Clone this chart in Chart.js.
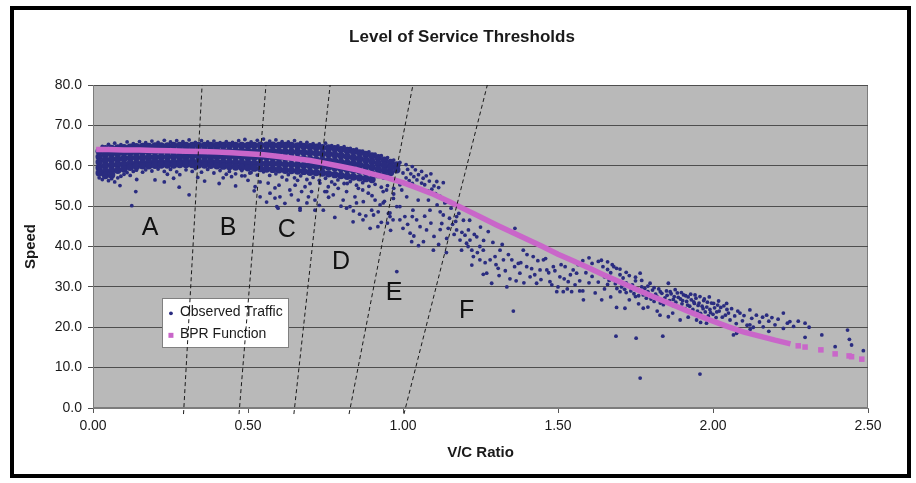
<!DOCTYPE html>
<html><head><meta charset="utf-8">
<script src="https://cdn.jsdelivr.net/npm/chart.js@4.4.1/dist/chart.umd.min.js"></script>
<style>
html,body{margin:0;padding:0;background:#fff;}
#wrap{position:relative;width:916px;height:483px;overflow:hidden;}
#frame{position:absolute;left:10px;top:6px;width:893px;height:464px;border:4px solid #000;pointer-events:none;}
canvas{position:absolute;left:0;top:0;}
</style></head><body>
<div id="wrap"><canvas id="c" width="916" height="483"></canvas><div id="frame"></div></div>
<script>
// ---------- DATA ----------
const chartTitle = 'Level of Service Thresholds';
const xTitle = 'V/C Ratio';
const yTitle = 'Speed';
const xTicks = [0, 0.5, 1.0, 1.5, 2.0, 2.5];
const yTicks = [0, 10, 20, 30, 40, 50, 60, 70, 80];

// BPR function
const bprCurveX = [0.01,0.05,0.10,0.15,0.20,0.25,0.30,0.35,0.40,0.45,0.50,0.55,0.60,0.65,0.70,0.75,0.80,0.85,0.90,0.95,1.00,1.05,1.10,1.15,1.20,1.25,1.30,1.35,1.40,1.45,1.50,1.55,1.60,1.65,1.70,1.75,1.80,1.85,1.90,1.95,2.00,2.05,2.10,2.15,2.20,2.25];
const bprCurveY = [64.0,64.0,63.9,63.9,63.8,63.7,63.6,63.5,63.4,63.2,63.0,62.7,62.3,61.8,61.3,60.6,59.8,59.0,58.0,57.0,55.8,54.4,52.9,51.1,49.2,47.3,45.4,43.6,41.8,40.0,38.1,36.4,34.7,32.9,31.2,29.5,27.8,26.2,24.6,23.0,21.5,20.1,18.8,17.8,16.8,15.9];
const bprTailX = [2.275,2.297,2.348,2.394,2.439,2.447,2.48];
const bprTailY = [15.4,15.1,14.4,13.4,12.9,12.7,12.1];

// Observed traffic: dense free-flow core, columns of [v/c, [speeds]]
const obsCoreColumns = [
 [0.02,[63.6,62.2,60.9,59.5,58.2]],[0.04,[64.2,62.8,61.4,60.0,58.6,57.6]],[0.06,[64.3,63.0,61.6,60.2,58.8,57.7]],
 [0.08,[64.4,63.1,61.7,60.3,58.9]],[0.10,[64.5,63.2,61.8,60.4,59.2]],[0.12,[64.6,63.3,61.9,60.6,59.6]],
 [0.14,[64.7,63.3,62.0,60.6,59.8]],[0.16,[64.8,63.4,62.0,60.7,60.0]],[0.18,[64.8,63.5,62.1,60.8,60.0]],
 [0.20,[64.9,63.5,62.1,60.8,60.1]],[0.22,[64.9,63.6,62.2,60.9,60.2]],[0.24,[64.9,63.6,62.2,60.9,60.2]],
 [0.26,[65.0,63.6,62.3,60.9,60.2]],[0.28,[65.0,63.7,62.3,61.0,60.3]],[0.30,[65.0,63.7,62.3,61.0,60.3]],
 [0.32,[65.0,63.7,62.4,61.0,60.3]],[0.34,[65.0,63.7,62.4,61.0,60.2]],[0.36,[65.0,63.7,62.3,61.0,60.2]],
 [0.38,[65.0,63.7,62.3,61.0,60.1]],[0.40,[65.0,63.7,62.3,60.9,60.0]],[0.42,[65.0,63.6,62.3,60.9,59.9]],
 [0.44,[65.0,63.6,62.2,60.8,59.8]],[0.46,[65.0,63.6,62.2,60.8,59.7]],[0.48,[65.0,63.6,62.2,60.7,59.6]],
 [0.50,[65.0,63.6,62.1,60.7,59.5]],[0.52,[65.0,63.5,62.1,60.6,59.4]],[0.54,[65.1,63.6,62.1,60.6,59.3]],
 [0.56,[65.1,63.6,62.1,60.6,59.2]],[0.58,[65.1,63.6,62.0,60.5,59.1]],[0.60,[65.0,63.5,62.0,60.5,59.0]],
 [0.62,[65.0,63.5,62.0,60.4,58.9]],[0.64,[65.0,63.4,61.9,60.3,58.8]],[0.66,[64.9,63.4,61.8,60.2,58.7]],
 [0.68,[64.8,63.3,61.7,60.1,58.6]],[0.70,[64.7,63.2,61.6,60.0,58.4]],[0.72,[64.6,63.1,61.5,59.9,58.3]],
 [0.74,[64.5,63.0,61.4,59.8,58.2]],[0.76,[64.4,62.9,61.3,59.7,58.0]],[0.78,[64.2,62.7,61.1,59.5,57.8]],
 [0.80,[64.0,62.5,60.9,59.3,57.6]],[0.82,[63.8,62.3,60.7,59.1,57.4]],[0.84,[63.5,62.0,60.5,58.9,57.2]],
 [0.86,[63.2,61.7,60.2,58.7,57.0]],[0.88,[62.8,61.4,59.9,58.4,56.8]],[0.90,[62.4,61.0,59.6,58.1,56.6]],
 [0.92,[62.0,60.6,59.2,57.8]],[0.94,[61.4,60.1,58.8,57.4]],[0.96,[60.8,59.6,58.3]],[0.98,[60.2,59.0]]
];
// upper edge of the free-flow cloud
const obsUpperEdge = [[0.03,64.8],[0.05,65.3],[0.07,65.6],[0.09,65.2],[0.11,65.9],[0.13,65.5],[0.15,66.0],[0.17,65.7],[0.19,66.1],[0.21,65.8],[0.23,66.3],[0.25,65.9],[0.27,66.2],[0.29,66.0],[0.31,66.4],[0.33,65.8],[0.35,66.2],[0.37,65.9],[0.39,66.1],[0.41,65.7],[0.43,66.0],[0.45,65.8],[0.47,66.2],[0.49,66.5],[0.51,65.9],[0.53,66.3],[0.55,66.6],[0.57,66.1],[0.59,66.4],[0.61,66.0],[0.63,65.9],[0.65,66.2],[0.67,65.7],[0.69,65.8],[0.71,65.5],[0.73,65.4],[0.75,65.6],[0.77,65.0],[0.79,64.9],[0.81,64.7],[0.83,64.3],[0.85,64.1],[0.87,63.6],[0.89,63.4],[0.91,62.9],[0.93,62.5],[0.95,62.0],[0.97,61.4],[0.99,60.8],[1.01,60.3],[1.03,59.8]];
// lower edge of the free-flow cloud
const obsLowerEdge = [[0.02,57.0],[0.03,56.6],[0.05,56.3],[0.06,56.8],[0.07,56.0],[0.08,57.0],[0.09,57.4],[0.10,57.9],[0.11,58.3],[0.12,57.6],[0.13,58.6],[0.14,58.9],[0.16,58.4],[0.17,59.0],[0.19,58.7],[0.21,59.2],[0.23,58.6],[0.24,57.9],[0.25,59.1],[0.27,58.5],[0.28,57.8],[0.30,59.0],[0.32,58.6],[0.33,59.3],[0.35,58.4],[0.37,59.1],[0.39,58.2],[0.41,58.8],[0.43,57.9],[0.44,58.6],[0.46,58.0],[0.48,58.8],[0.49,57.5],[0.51,58.3],[0.53,57.7],[0.55,58.5],[0.57,57.6],[0.59,58.0],[0.61,57.2],[0.63,57.8],[0.65,57.0],[0.67,57.5],[0.69,56.6],[0.71,57.1],[0.73,56.4],[0.75,56.9],[0.77,56.0],[0.79,56.5],[0.81,55.6],[0.83,56.1],[0.85,55.2],[0.87,55.8],[0.89,54.9],[0.91,55.4],[0.93,54.7],[0.95,55.1],[0.97,54.4],[0.99,55.3]];
// scattered slow observations in free flow / stable flow
const obsScatterLow = [[0.087,55.1],[0.141,56.6],[0.138,53.6],[0.125,50.1],[0.278,54.7],[0.31,52.8],[0.338,57.1],[0.407,55.6],[0.447,57.3],[0.48,57.5],[0.20,56.5],[0.26,56.9],[0.23,56.0],
 [0.506,58.2],[0.539,56.0],[0.565,55.7],[0.571,53.2],[0.587,54.5],[0.603,52.3],[0.597,49.5],[0.625,56.5],[0.635,54.0],[0.652,55.2],[0.662,51.5],[0.673,53.6],[0.684,54.8],[0.695,52.3],[0.705,53.6],[0.716,51.5],[0.732,55.7],[0.748,53.6],[0.759,54.8],[0.775,52.8],[0.791,54.4],[0.807,51.5],[0.818,53.6],[0.829,49.9],[0.845,52.3],[0.856,54.4],[0.872,51.1],[0.888,53.2],[0.899,49.0],[0.91,51.5],[0.926,50.3],[0.936,53.6],[0.953,48.2],[0.969,51.9],[0.98,49.9],
 [0.668,49.5],[0.587,52.0],[0.539,52.3],[0.523,54.8],[0.619,50.7],[0.743,49.0],[0.716,49.0],[0.593,49.9],[0.668,49.0],[0.754,53.6],[0.818,49.5],[0.839,46.1],[0.871,46.6],[0.894,44.5],[0.919,44.9],[0.958,47.4],[0.99,46.6],[1.03,47.4],[0.78,47.2],[0.86,48.0],[0.93,46.0],[0.96,44.0],[0.905,47.8],[0.98,33.8],
 [0.56,51.0],[0.6,55.2],[0.64,52.8],[0.66,56.4],[0.69,50.8],[0.7,55.6],[0.73,50.2],[0.76,52.2],[0.78,55.4],[0.8,50.0],[0.82,55.6],[0.84,48.8],[0.85,50.8],[0.87,54.0],[0.88,47.6],[0.9,52.6],[0.92,48.6],[0.94,51.2],[0.95,45.8],[0.97,53.0],
 [0.36,56.2],[0.42,57.0],[0.5,56.4],[0.52,53.8],[0.46,55.0]];
// transition zone around capacity
const obsTransition = [[0.947,54.0],[0.936,50.8],[0.958,48.3],[0.968,46.6],[0.99,49.9],[1.006,47.4],[1.023,43.3],[1.032,49.0],[1.044,46.6],[1.055,44.9],[1.066,41.2],[1.028,41.2],[1.098,39.1],[1.076,44.1],[1.049,51.5],[1.012,52.3],[0.996,54.0],[1.039,54.8],[1.06,55.7],[1.109,56.1],[1.093,54.2],[1.082,51.5],[1.087,49.0],
 [1.0,58.2],[1.01,57.0],[1.015,59.1],[1.02,56.3],[1.025,58.0],[1.03,55.6],[1.035,57.3],[1.04,59.0],[1.045,56.5],[1.05,57.8],[1.055,54.2],[1.06,58.6],[1.065,56.9],[1.07,55.3],[1.075,57.5],[1.08,53.8],[1.085,56.2],[1.09,58.0],[1.1,55.0],[1.105,53.1],[1.115,54.6],[1.12,52.4],[1.13,55.8],[1.14,51.0],
 [1.0,44.5],[1.015,45.5],[1.035,42.6],[1.05,40.2],[1.07,47.5],[1.09,45.8],[1.1,42.5],[1.115,40.5],[1.12,44.2],[1.14,38.5],
 [1.13,47.8],[1.125,45.7],[1.146,44.5],[1.141,42.0],[1.173,44.1],[1.184,41.6],[1.211,44.1],[1.216,41.6],[1.222,39.1],[1.227,37.5],[1.248,40.0],[1.259,39.1],[1.275,43.7],[1.281,36.7],[1.222,35.4],[1.259,33.1],[1.286,30.9],[1.313,39.1],[1.324,36.7],[1.335,30.0],[1.361,44.5],[1.372,35.8],[1.388,39.1],[1.399,35.0],[1.42,37.5],[1.431,30.9],[1.453,36.7],[1.464,34.2],[1.485,35.0],[1.506,32.5],[1.517,28.8],[1.533,31.3],[1.549,34.2],[1.356,24.0],
 [1.173,47.4],[1.189,39.1],[1.205,40.8],[1.238,42.4],[1.248,36.7],[1.27,33.4],[1.297,37.5],[1.307,34.6],[1.351,36.7],[1.377,33.4],[1.41,32.5],[1.442,34.2],[1.474,31.3],[1.496,28.8],[1.523,35.0],[1.544,28.8],[1.56,33.4],
 [1.11,50.3],[1.12,48.6],[1.135,50.8],[1.15,47.0],[1.155,49.5],[1.16,45.5],[1.165,43.0],[1.17,46.2],[1.18,48.2],[1.19,43.5],[1.195,46.5],[1.2,42.8],[1.21,40.0],[1.215,46.5],[1.23,43.0],[1.24,38.5],[1.25,44.8],[1.26,41.5],[1.265,36.0],[1.29,41.0],[1.3,35.5],[1.31,32.8],[1.32,40.5],[1.33,34.0],[1.34,38.0],[1.345,32.0],[1.36,35.0],[1.365,31.5],[1.38,36.0],[1.39,31.0],[1.4,38.0],[1.415,34.5],[1.425,33.0],[1.435,36.5],[1.445,31.8],[1.46,37.0],[1.47,33.5],[1.48,30.5],[1.49,34.0],[1.5,30.0],[1.51,35.5],[1.52,32.0],[1.53,29.5],[1.54,33.0],[1.555,30.5],[1.565,35.5],[1.57,31.5],[1.58,29.0],[1.59,33.5]];
// congested flow
const obsCongested = [[1.58,36.5],[1.6,37.2],[1.61,35.8],[1.62,34.0],[1.63,36.3],[1.64,33.2],[1.645,35.0],[1.65,32.5],[1.66,34.3],[1.665,31.6],[1.67,33.5],[1.675,35.5],[1.68,32.0],[1.685,30.8],[1.689,34.6],[1.69,31.5],[1.7,33.0],[1.705,30.0],[1.71,32.2],[1.715,29.4],[1.72,31.0],[1.73,32.8],[1.735,29.0],[1.74,30.5],[1.745,28.3],[1.75,31.5],[1.755,29.5],[1.76,27.8],[1.765,33.4],[1.77,30.0],[1.775,28.0],[1.78,29.6],[1.785,27.2],[1.79,28.8],[1.797,30.9],[1.8,27.0],[1.805,29.2],[1.81,26.4],[1.815,28.2],[1.82,27.5],[1.825,29.5],[1.83,26.0],[1.835,28.4],[1.84,25.6],[1.845,27.3],[1.85,29.0],[1.856,30.9],[1.86,26.6],[1.865,28.3],[1.87,25.4],[1.875,27.6],[1.88,26.2],[1.885,28.5],[1.89,25.0],[1.895,27.0],[1.9,25.8],[1.905,28.0],[1.91,24.6],[1.915,26.4],[1.92,27.5],[1.925,25.2],[1.93,26.8],[1.935,24.4],[1.94,25.9],[1.945,27.2],[1.95,24.0],[1.955,26.0],[1.96,23.4],[1.965,25.2],[1.97,26.6],[1.975,23.8],[1.98,25.0],[1.985,22.8],[1.99,24.4],[1.995,26.0],[2.0,23.2],[2.005,24.8],[2.01,22.4],[2.015,25.5],
 [1.852,27.9],[1.862,28.8],[1.872,26.9],[1.878,29.3],[1.888,27.4],[1.898,28.6],[1.902,26.6],[1.912,27.8],[1.918,25.5],[1.928,28.2],[1.938,26.3],[1.942,28.0],[1.952,25.4],[1.958,27.6],[1.968,24.6],[1.972,27.0],[1.982,26.2],[1.988,27.5],[1.992,23.6],[2.002,25.9],[2.012,23.8],[2.018,26.5],[2.025,24.9],[2.04,23.0],[2.045,24.4],[1.83,28.8],[1.81,29.8],[1.79,30.2],[1.77,31.6],[1.75,32.4],[1.72,33.6],[1.7,34.4],[1.68,35.0],[1.66,36.2],[1.64,36.6],
 [1.61,32.6],[1.63,31.2],[1.66,30.6],[1.69,29.6],[1.72,28.6],[1.75,27.6],
 [1.582,26.8],[1.641,26.8],[1.689,24.9],[1.716,24.7],[1.775,24.7],[1.829,23.0],[1.856,22.6],[1.894,21.8],[1.947,21.8],[1.979,21.0],[1.57,29.0],[1.6,31.0],[1.62,28.5],[1.65,29.5],[1.67,27.5],[1.7,28.8],[1.73,26.8],[1.76,25.8],[1.79,25.0],[1.82,24.0],[1.87,23.5],[1.92,22.5],[1.96,21.2],
 [1.687,17.8],[1.752,17.3],[1.838,17.8],[1.765,7.4],[1.958,8.4]];
// heavily congested tail
const obsTail = [[2.02,24.0],[2.03,22.5],[2.035,25.3],[2.044,25.9],[2.05,23.5],[2.055,21.8],[2.06,24.6],[2.07,22.8],[2.075,20.9],[2.08,24.0],[2.087,23.5],[2.095,21.6],[2.1,22.9],[2.11,20.5],[2.119,24.3],[2.125,22.2],[2.13,20.0],[2.14,23.0],[2.15,21.3],[2.16,22.5],[2.162,20.1],[2.173,23.0],[2.18,21.5],[2.19,22.4],[2.2,20.6],[2.21,22.0],[2.227,23.5],[2.227,19.7],[2.24,21.0],[2.248,21.4],[2.26,20.2],[2.275,21.5],[2.297,21.0],[2.066,18.1],[2.076,18.5],[2.119,20.6],[2.297,17.5],[2.351,18.1],[2.394,15.2],[2.434,19.3],[2.44,17.0],[2.447,15.6],[2.485,14.2],[2.12,19.5],[2.18,19.0],[2.31,20.0]];

// Level-of-service threshold lines (bottom and top ends)
const losBottomX = [0.292,0.471,0.648,0.826,1.003];
const losTopX = [0.352,0.558,0.765,1.032,1.272];
const losBottomY = -1.5;
const losTopY = 80;
const losLetters = ['A','B','C','D','E','F'];
const losLetterX = [0.184,0.436,0.625,0.800,0.971,1.205];
const losLetterY = [44.5,44.5,44.1,36.2,28.4,23.9];

const legendLabels = ['Observed Traffic','BPR Function'];

// ---------- STYLE ----------
const FONT = '"Liberation Sans", Arial, sans-serif';
const NAVY = '#2a2c80';
const PINK = '#c966c9';
const TXT = '#1a1a1a';

const toPts = arr => arr.map(p => ({x:p[0], y:p[1]}));
const corePts = [];
obsCoreColumns.forEach(c => c[1].forEach(y => corePts.push({x:c[0], y})));
const fringePts = toPts([].concat(obsUpperEdge, obsLowerEdge, obsScatterLow, obsTransition, obsCongested, obsTail));

const datasets = [];
losBottomX.forEach((bx, i) => {
  datasets.push({type:'scatter', label:'LOS'+i, data:[{x:bx,y:losBottomY},{x:losTopX[i],y:losTopY}],
    showLine:true, borderColor:'#1a1a1a', borderWidth:1, borderDash:[4,3], pointRadius:0, clip:false, order:0});
});
datasets.push({type:'scatter', label:'BPR Function', data:bprCurveX.map((x,i)=>({x, y:bprCurveY[i]})),
  showLine:true, borderColor:PINK, borderWidth:5.5, pointRadius:0, order:1});
datasets.push({type:'scatter', label:'BPR tail', data:bprTailX.map((x,i)=>({x, y:bprTailY[i]})),
  pointStyle:'rect', pointRadius:3.9, backgroundColor:PINK, borderWidth:0, order:1});
datasets.push({type:'scatter', label:'Observed Traffic', data:fringePts,
  pointRadius:1.9, backgroundColor:NAVY, borderWidth:0, order:2});
datasets.push({type:'scatter', label:'Observed core', data:corePts,
  pointRadius:3.7, backgroundColor:NAVY, borderWidth:0, order:2});

const decor = {
  id:'decor',
  beforeDraw(chart){
    const {ctx, chartArea:a} = chart;
    ctx.save();
    ctx.fillStyle = '#b9b9b9';
    ctx.fillRect(a.left, a.top, a.right-a.left, a.bottom-a.top);
    ctx.strokeStyle = '#7c7c7c'; ctx.lineWidth = 1;
    ctx.strokeRect(a.left+0.5, a.top+0.5, a.right-a.left-1, a.bottom-a.top-1);
    // chart title
    ctx.fillStyle = TXT; ctx.font = 'bold 17px ' + FONT; ctx.textAlign = 'center'; ctx.textBaseline = 'middle';
    ctx.fillText(chartTitle, 462, 37);
    ctx.restore();
  },
  beforeDatasetsDraw(chart){
    const {ctx} = chart;
    const xs = chart.scales.x, ys = chart.scales.y;
    // legend box anchored in data space
    const L = xs.getPixelForValue(0.224), R = xs.getPixelForValue(0.631);
    const T = ys.getPixelForValue(27.2), B = ys.getPixelForValue(15.1);
    ctx.save();
    ctx.fillStyle = '#fff'; ctx.fillRect(L, T, R-L, B-T);
    ctx.strokeStyle = '#808080'; ctx.lineWidth = 1;
    ctx.strokeRect(Math.round(L)+0.5, Math.round(T)+0.5, Math.round(R-L), Math.round(B-T));
    const y1 = T + (B-T)*0.29, y2 = T + (B-T)*0.74;
    ctx.fillStyle = NAVY; ctx.beginPath(); ctx.arc(L+8.5, y1+1, 1.9, 0, Math.PI*2); ctx.fill();
    ctx.fillStyle = PINK; ctx.fillRect(L+6, y2-1.5, 5, 5);
    ctx.fillStyle = TXT; ctx.font = '14px ' + FONT; ctx.textBaseline = 'middle'; ctx.textAlign = 'left';
    ctx.fillText(legendLabels[0], L+17.5, y1);
    ctx.fillText(legendLabels[1], L+17.5, y2);
    ctx.restore();
  },
  afterDatasetsDraw(chart){
    const {ctx} = chart;
    const xs = chart.scales.x, ys = chart.scales.y;
    ctx.save();
    ctx.fillStyle = '#111'; ctx.font = '25px ' + FONT; ctx.textAlign = 'center'; ctx.textBaseline = 'middle';
    losLetters.forEach((t,i) => ctx.fillText(t, xs.getPixelForValue(losLetterX[i]), ys.getPixelForValue(losLetterY[i])));
    ctx.restore();
  }
};

new Chart(document.getElementById('c'), {
  type:'scatter',
  data:{datasets},
  plugins:[decor],
  options:{
    responsive:false, animation:false, devicePixelRatio:1,
    layout:{padding:{left:0, right:48, top:85, bottom:0}},
    plugins:{
      legend:{display:false}, tooltip:{enabled:false},
      title:{display:false}
    },
    scales:{
      x:{type:'linear', min:xTicks[0], max:xTicks[xTicks.length-1],
        afterBuildTicks(s){ s.ticks = xTicks.map(v=>({value:v})); },
        ticks:{callback:v=>Number(v).toFixed(2), color:TXT, font:{family:FONT, size:14}, padding:4.6, maxRotation:0, autoSkip:false},
        grid:{drawOnChartArea:false, drawTicks:true, tickLength:5, color:'#555'},
        border:{display:true, color:'#7c7c7c'},
        title:{display:true, text:xTitle, color:TXT, font:{family:FONT, size:15, weight:'bold', lineHeight:1.2}, padding:{top:0, bottom:21}},
        afterFit(s){ s.height = 75; }
      },
      y:{type:'linear', min:yTicks[0], max:yTicks[yTicks.length-1],
        afterBuildTicks(s){ s.ticks = yTicks.map(v=>({value:v})); },
        ticks:{callback:v=>Number(v).toFixed(1), color:TXT, font:{family:FONT, size:14}, padding:6},
        grid:{color:'#4e4e4e', lineWidth:1, tickLength:5, drawTicks:true},
        border:{display:true, color:'#7c7c7c'},
        title:{display:true, text:yTitle, color:TXT, font:{family:FONT, size:15, weight:'bold', lineHeight:1.2}, padding:{top:22, bottom:0}},
        afterFit(s){ s.width = 93; }
      }
    }
  }
});
</script>
</body></html>
